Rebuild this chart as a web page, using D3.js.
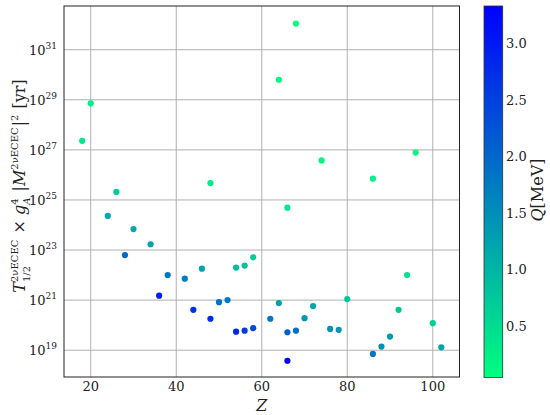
<!DOCTYPE html>
<html><head><meta charset="utf-8">
<script src="https://cdn.jsdelivr.net/npm/d3@7"></script>
<style>body{margin:0;background:#fff}svg{display:block}text{white-space:pre}</style>
</head><body><svg id="c" width="550" height="415" font-family="DejaVu Serif, serif" fill="#222"></svg>
<script>
const Z = [18,20,24,26,28,30,34,36,38,42,44,46,48,48,50,52,54,54,56,56,58,58,62,64,64,66,66,66,68,68,70,72,74,76,78,80,86,86,88,90,92,94,96,100,102];
const halfLife = [2.3e27,7.2e28,2.3e24,2.1e25,6.3e22,6.9e23,1.7e23,1.5e21,1.0e22,7.2e21,4.1e20,1.8e22,1.8e20,4.7e25,8.3e20,1.0e21,5.5e19,2.0e22,6.0e19,2.4e22,7.6e19,5.1e22,1.8e20,7.6e20,6.3e29,3.8e18,5.2e19,4.9e24,6.0e19,1.1e32,1.9e20,5.8e20,3.8e26,7.1e19,6.5e19,1.1e21,7.1e18,7.1e25,1.4e19,3.5e19,4.1e20,1.0e22,7.8e26,1.2e20,1.3e19];
const Q = [0.37,0.3,1.13,0.7,2.0,1.15,1.2,2.95,1.8,1.7,2.7,1.2,2.8,0.3,1.9,1.75,2.85,0.9,2.6,0.85,2.4,0.7,1.8,1.25,0.1,3.33,2.1,0.3,1.9,0.04,1.4,1.2,0.15,1.45,1.4,0.8,1.85,0.2,1.45,1.3,0.75,0.4,0.1,0.65,1.2];
const xTicks = [20,40,60,80,100];
const yExp = [19,21,23,25,27,29,31];
const cTicks = [0.5,1.0,1.5,2.0,2.5,3.0];

const svg = d3.select("#c");
const L=64,R=459.5,T=6,B=377;
const x = d3.scaleLinear().domain([13.75,106.25]).range([L,R]);
const y = d3.scaleLog().domain([Math.pow(10,17.93),Math.pow(10,32.745)]).range([B,T]);
const qmin=d3.min(Q), qmax=d3.max(Q);
const winterR = t => { const s=1-t; return d3.rgb(0, Math.round(255*s), Math.round(255*(1-0.5*s))).toString(); };
const col = d3.scaleLinear().domain([qmin,qmax]).range([0,1]);

const g = svg.append("g");
g.selectAll(".gx").data(xTicks).join("line").attr("x1",d=>x(d)).attr("x2",d=>x(d)).attr("y1",T).attr("y2",B).attr("stroke","#b0b0b0").attr("stroke-width",1);
g.selectAll(".gy").data(yExp).join("line").attr("y1",d=>y(Math.pow(10,d))).attr("y2",d=>y(Math.pow(10,d))).attr("x1",L).attr("x2",R).attr("stroke","#b0b0b0").attr("stroke-width",1);

svg.append("g").selectAll("circle").data(Z.map((z,i)=>({z,t:halfLife[i],q:Q[i]}))).join("circle")
  .attr("cx",d=>x(d.z)).attr("cy",d=>y(d.t)).attr("r",3.1).attr("fill",d=>winterR(col(d.q)));

svg.append("rect").attr("x",L).attr("y",T).attr("width",R-L).attr("height",B-T).attr("fill","none").attr("stroke","#222").attr("stroke-width",1);

svg.selectAll(".xt").data(xTicks).join("text").attr("x",d=>x(d)).attr("y",391).attr("text-anchor","middle").attr("font-size",13).text(d=>d);
svg.append("text").attr("x",x(60)).attr("y",411).attr("text-anchor","middle").attr("font-size",16).attr("font-style","italic").text("Z");

const yt = svg.selectAll(".yt").data(yExp).join("text").attr("text-anchor","end").attr("x",57).attr("y",d=>y(Math.pow(10,d))+5).attr("font-size",13);
yt.append("tspan").text("10");
yt.append("tspan").attr("font-size",9).attr("dy",-6).text(d=>d);

const lab = svg.append("g").attr("transform","translate(25,186) rotate(-90)");
const inner = lab.append("g");
let cx = 0;
function piece(txt,size,dy,italic){
  const t = inner.append("text").attr("x",cx).attr("y",dy).attr("font-size",size).text(txt);
  if(italic) t.attr("font-style","italic");
  cx += t.node().getComputedTextLength();
}
function supsub(sup,sub,subItal){
  const x0=cx; let w1=0,w2=0;
  if(sup){ const t=inner.append("text").attr("x",x0).attr("y",-7).attr("font-size",10).text(sup); w1=t.node().getComputedTextLength(); }
  if(sub){ const t=inner.append("text").attr("x",x0).attr("y",5).attr("font-size",10).text(sub); if(subItal) t.attr("font-style","italic"); w2=t.node().getComputedTextLength(); }
  cx = x0+Math.max(w1,w2)+1;
}
piece("T",16,0,true);
supsub("2νECEC","1/2",false);
piece(" × ",16,0,false);
piece("g",16,0,true);
supsub("4","A",true);
piece(" |",16,0,false);
piece("M",16,0,true);
supsub("2νECEC",null);
piece("|",16,0,false);
supsub("2",null);
piece(" [yr]",16,0,false);
inner.attr("transform",`translate(${-cx/2},0)`);

const cbL=484,cbR=502.7,cbT=6,cbB=377.5;
const cy = d3.scaleLinear().domain([qmin,qmax]).range([cbB,cbT]);
const defs=svg.append("defs");
const grad=defs.append("linearGradient").attr("id","gr").attr("x1",0).attr("y1",1).attr("x2",0).attr("y2",0);
d3.range(0,1.0001,0.1).forEach(t=>grad.append("stop").attr("offset",t).attr("stop-color",winterR(t)));
svg.append("rect").attr("x",cbL).attr("y",cbT).attr("width",cbR-cbL).attr("height",cbB-cbT).attr("fill","url(#gr)").attr("stroke","#333").attr("stroke-width",0.8);
svg.selectAll(".ct").data(cTicks).join("text").attr("x",506).attr("y",d=>cy(d)+5).attr("font-size",13).text(d=>d.toFixed(1));
const cl = svg.append("text").attr("transform","translate(543,190) rotate(-90)").attr("text-anchor","middle").attr("font-size",16);
cl.append("tspan").attr("font-style","italic").text("Q");
cl.append("tspan").text("[MeV]");
</script></body></html>
